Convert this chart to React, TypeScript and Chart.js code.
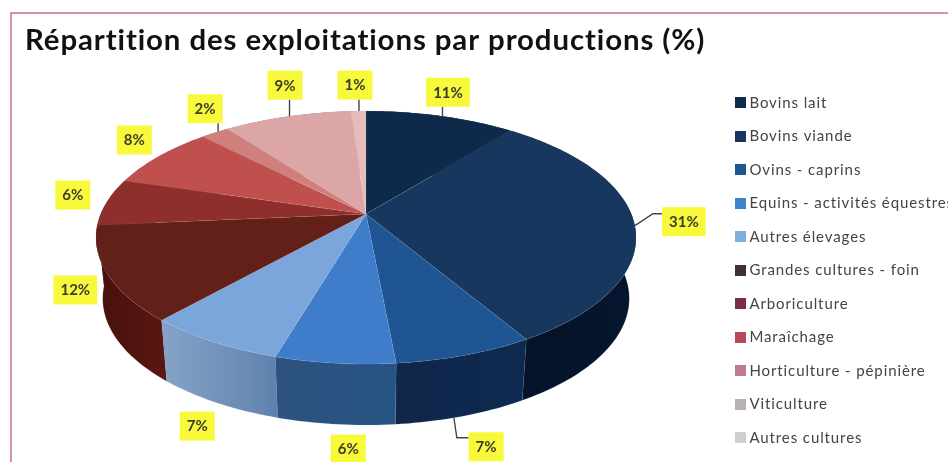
import React, { useEffect, useRef } from "react";
import { Chart, registerables } from "chart.js";

Chart.register(...registerables);

const categories = [
  "Bovins lait",
  "Bovins viande",
  "Ovins - caprins",
  "Equins - activités équestres",
  "Autres élevages",
  "Grandes cultures - foin",
  "Arboriculture",
  "Maraîchage",
  "Horticulture - pépinière",
  "Viticulture",
  "Autres cultures",
];
const shares = [11, 31, 7, 6, 7, 12, 6, 8, 2, 9, 1];

const topColors = ["#0d2a4b", "#17375e", "#1f5592", "#3f7dca", "#7ba6dc", "#632019", "#8f2f2d", "#c0504d", "#cf7f7c", "#dba6a5", "#e6bcbb"];
const wallRight = ["#061428", "#06162f", "#0e2a50", "#265484", "#5f82ad", "#5a1712", "#5a1712", "#7a2a28", "#8a4b49", "#9c6b6a", "#a88281"];
const wallLeft = ["#061428", "#051229", "#10264a", "#2e527e", "#86a4c8", "#46100c", "#5a1712", "#7a2a28", "#8a4b49", "#9c6b6a", "#a88281"];
const legendColors = ["#0d2b4a", "#17375e", "#1f5592", "#3d85cb", "#7db0dd", "#3f3038", "#7b3042", "#b8485e", "#c07a8c", "#b9b0b4", "#d2cece"];

// Label box centre relative to the rim point at each slice's middle angle.
const calloutOffsets = [[5.5, -24], [49, -4], [30, 90], [23, 86.5], [-8, 87], [-30, 19.5], [-36, -4], [-28, -14.5], [-13, -23], [-4.5, -31], [-4, -26]];
const calloutLeaders = ["straight", "elbowUp", "elbowDown", null, null, null, null, null, "straight", "straight", "straight"];

// Perspective view of the pie: unit circle to screen through a homography,
// with a slight angular drift of the projection going round the disc.
const view = { x: 366, y: 214, a: 265.3, b: 122.1, p: 0.186, depth: 61, lowerScale: 0.975, drift: 0.03 };

function rim(theta: number, lower = false, drifted = true) {
  const t = drifted ? theta - view.drift * Math.sqrt(Math.abs(Math.sin(theta / 2))) : theta;
  const u = Math.sin(t);
  const v = -Math.cos(t);
  const den = 1 - view.p * v;
  const X = (view.a * u) / den;
  const Y = (view.b * v) / den;
  return lower
    ? { x: view.x + X * view.lowerScale, y: view.y + Y + view.depth }
    : { x: view.x + X, y: view.y + Y };
}

function arcPoints(from: number, to: number, lower = false) {
  const steps = Math.max(2, Math.ceil(Math.abs(to - from) / 0.02));
  const pts = [];
  for (let i = 0; i <= steps; i++) pts.push(rim(from + ((to - from) * i) / steps, lower));
  return pts;
}

const pie3d = {
  id: "pie3d",
  // Open tracking for the title and legend text, set before they are measured.
  beforeUpdate(chart: any) {
    chart.ctx.letterSpacing = "0.9px";
  },
  beforeDraw(chart: any) {
    const { ctx } = chart;
    ctx.save();
    ctx.fillStyle = "#ffffff";
    ctx.fillRect(0, 0, chart.width, chart.height);
    ctx.strokeStyle = "#c8737a";
    ctx.lineWidth = 1.5;
    ctx.strokeRect(11, 13, chart.width, chart.height);
    ctx.restore();
  },
  beforeDatasetsDraw(chart: any) {
    const { ctx } = chart;
    const arcs = chart.getDatasetMeta(0).data;
    const slices = arcs.map((arc: any, i: number) => ({
      i,
      start: arc.startAngle + Math.PI / 2,
      end: arc.endAngle + Math.PI / 2,
    }));
    ctx.save();
    ctx.lineJoin = "round";

    // Side walls, back to front, so the nearest ones end up on top.
    const order = [...slices].sort((p, q) => Math.cos((q.start + q.end) / 2) - Math.cos((p.start + p.end) / 2));
    for (const s of order) {
      const up = arcPoints(s.start, s.end);
      const down = arcPoints(s.start, s.end, true).reverse();
      const xs = up.map((q) => q.x);
      const g = ctx.createLinearGradient(Math.max(...xs), 0, Math.min(...xs), 0);
      g.addColorStop(0, wallRight[s.i]);
      g.addColorStop(1, wallLeft[s.i]);
      ctx.beginPath();
      [...up, ...down].forEach((q, k) => (k ? ctx.lineTo(q.x, q.y) : ctx.moveTo(q.x, q.y)));
      ctx.closePath();
      ctx.fillStyle = g;
      ctx.fill();
      ctx.strokeStyle = "rgba(120,150,190,0.18)";
      ctx.lineWidth = 0.7;
      ctx.stroke();
    }

    // Top faces drawn from the arc elements' own angles.
    for (const s of slices) {
      ctx.beginPath();
      ctx.moveTo(view.x, view.y);
      arcPoints(s.start, s.end).forEach((q) => ctx.lineTo(q.x, q.y));
      ctx.closePath();
      ctx.fillStyle = arcs[s.i].options.backgroundColor;
      ctx.fill();
      ctx.strokeStyle = "rgba(255,255,255,0.08)";
      ctx.lineWidth = 0.8;
      ctx.stroke();
    }
    ctx.restore();
    return false;
  },
  afterDraw(chart: any) {
    const { ctx } = chart;
    const arcs = chart.getDatasetMeta(0).data;
    ctx.save();
    ctx.letterSpacing = "0px";
    ctx.font = "bold 15px Lato";
    ctx.textAlign = "center";
    ctx.textBaseline = "middle";
    arcs.forEach((arc: any, i: number) => {
      const mid = (arc.startAngle + arc.endAngle) / 2 + Math.PI / 2;
      const anchor = rim(mid, false, false);
      const cx = anchor.x + calloutOffsets[i][0];
      const cy = anchor.y + calloutOffsets[i][1];
      const text = `${shares[i]}%`;
      const w = ctx.measureText(text).width + 14;
      const h = 29;
      const left = cx - w / 2;

      ctx.strokeStyle = "#454545";
      ctx.lineWidth = 1.4;
      ctx.beginPath();
      if (calloutLeaders[i] === "straight") {
        ctx.moveTo(anchor.x, anchor.y);
        ctx.lineTo(anchor.x, cy + h / 2);
      } else if (calloutLeaders[i] === "elbowUp") {
        ctx.moveTo(anchor.x, anchor.y);
        ctx.lineTo(left - 9, cy - 8);
        ctx.lineTo(left, cy - 8);
      } else if (calloutLeaders[i] === "elbowDown") {
        const foot = rim(mid, true, false);
        ctx.moveTo(foot.x, foot.y);
        ctx.lineTo(foot.x + 3, cy - 9);
        ctx.lineTo(left, cy - 9);
      }
      ctx.stroke();

      ctx.fillStyle = "#f9f93c";
      ctx.fillRect(left, cy - h / 2, w, h);
      ctx.fillStyle = "#3c3c28";
      ctx.fillText(text, cx, cy + 0.5);
    });
    ctx.restore();
  },
};

function swatch(color: string) {
  const c = document.createElement("canvas");
  c.width = 11;
  c.height = 11;
  const g = c.getContext("2d")!;
  g.fillStyle = color;
  g.fillRect(0, 0, 11, 11);
  return c;
}

export default function App() {
  const ref = useRef<HTMLCanvasElement>(null);
  useEffect(() => {
    const chart = new Chart(ref.current!, {
      type: "pie",
      data: {
        labels: categories,
        datasets: [{ data: shares, backgroundColor: topColors, borderWidth: 0 }],
      },
      options: {
        responsive: false,
        animation: false,
        layout: { padding: { left: 25, right: 36 } },
        plugins: {
          tooltip: { enabled: false },
          title: {
            display: true,
            text: "Répartition des exploitations par productions (%)",
            align: "start",
            color: "#111111",
            font: { family: "Lato", size: 29.4, weight: "bold" },
            padding: { top: 23, bottom: 16.5 },
          },
          legend: {
            position: "right",
            fullSize: false,
            labels: {
              color: "#444444",
              font: { family: "Lato", size: 15 },
              boxWidth: 2,
              boxHeight: 11,
              padding: 18.5,
              usePointStyle: true,
              pointStyleWidth: 2,
              generateLabels: () =>
                categories.map((text, i) => ({
                  text,
                  index: i,
                  pointStyle: swatch(legendColors[i]),
                  fontColor: "#444444",
                  lineWidth: 0,
                })),
            },
          },
        },
      },
      plugins: [pie3d],
    } as any);
    return () => chart.destroy();
  }, []);
  return (
    <div style={{ position: "absolute", left: 0, top: 0, width: 948, height: 462, overflow: "hidden", background: "#fff" }}>
      <canvas ref={ref} width={1000} height={466} style={{ display: "block" }} />
    </div>
  );
}
